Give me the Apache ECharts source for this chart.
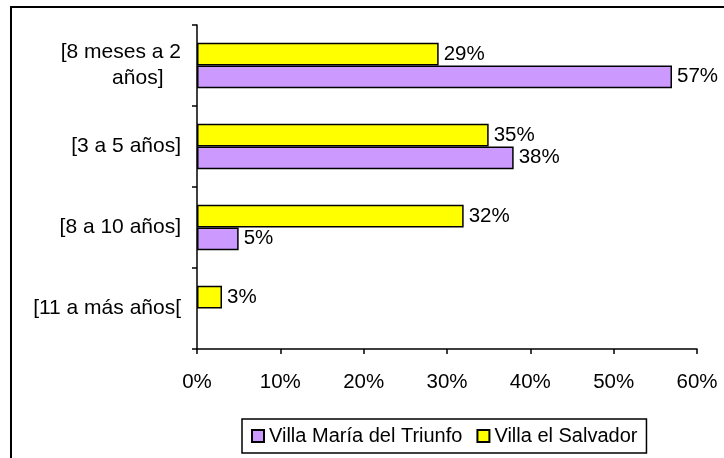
<!DOCTYPE html>
<html>
<head>
<meta charset="utf-8">
<script src="https://cdn.jsdelivr.net/npm/echarts@6/dist/echarts.min.js"></script>
<style>html,body{margin:0;padding:0;background:#fff;}#chart{width:724px;height:458px;}</style>
</head>
<body>
<div id="chart"></div>
<script>
// Categories listed bottom to top (as drawn by the value axis origin)
const categories = ['[11 a más años[', '[8 a 10 años]', '[3 a 5 años]', '[8 meses a 2\naños]   '];
const seriesNames = ['Villa María del Triunfo', 'Villa el Salvador'];
const vmtValues = [null, 5, 38, 57];
const vesValues = [3, 32, 35, 29];
const xTicks = [0, 10, 20, 30, 40, 50, 60];

const FONT = 'Liberation Sans, Arial, sans-serif';
const FS = 20.5;
const chart = echarts.init(document.getElementById('chart'), null, {renderer: 'canvas'});
const labelCfg = {
  show: true, position: 'right', distance: 5,
  formatter: p => p.value == null ? '' : p.value + '%',
  color: '#000', fontFamily: FONT, fontSize: FS
};
chart.setOption({
  animation: false,
  backgroundColor: '#fff',
  textStyle: {fontFamily: FONT},
  graphic: [{
    type: 'rect', shape: {x: 11, y: 7, width: 800, height: 600},
    style: {fill: 'none', stroke: '#000', lineWidth: 2}, silent: true, z: 100
  }],
  grid: {left: 197, right: 27, top: 25, bottom: 109, containLabel: false},
  xAxis: {
    type: 'value', min: xTicks[0], max: xTicks[xTicks.length - 1], interval: 10,
    axisLine: {show: true, lineStyle: {color: '#000', width: 1.5}},
    axisTick: {show: true, length: 5, lineStyle: {color: '#000', width: 1.5}},
    splitLine: {show: false},
    axisLabel: {formatter: '{value}%', color: '#000', fontSize: FS, fontFamily: FONT, margin: 23}
  },
  yAxis: {
    type: 'category', data: categories,
    axisLine: {show: true, lineStyle: {color: '#000', width: 1.5}},
    axisTick: {show: true, length: 5, lineStyle: {color: '#000', width: 1.5}},
    axisLabel: {color: '#000', fontSize: 21, fontFamily: FONT, margin: 16, lineHeight: 26}
  },
  legend: {
    bottom: 5, left: 242,
    data: seriesNames,
    icon: 'rect',
    itemWidth: 12, itemHeight: 12, itemGap: 14,
    borderColor: '#000', borderWidth: 1.5, padding: [7, 9, 7, 9],
    textStyle: {color: '#000', fontSize: 20, fontFamily: FONT}
  },
  series: [
    {
      name: seriesNames[1], type: 'bar', data: vesValues,
      barGap: '0%', barCategoryGap: '44%',
      itemStyle: {color: '#FFFF00', borderColor: '#000', borderWidth: 1.5},
      label: labelCfg
    },
    {
      name: seriesNames[0], type: 'bar', data: vmtValues,
      barGap: '0%', barCategoryGap: '44%',
      itemStyle: {color: '#CC99FF', borderColor: '#000', borderWidth: 1.5},
      label: labelCfg
    }
  ]
});
</script>
</body>
</html>
